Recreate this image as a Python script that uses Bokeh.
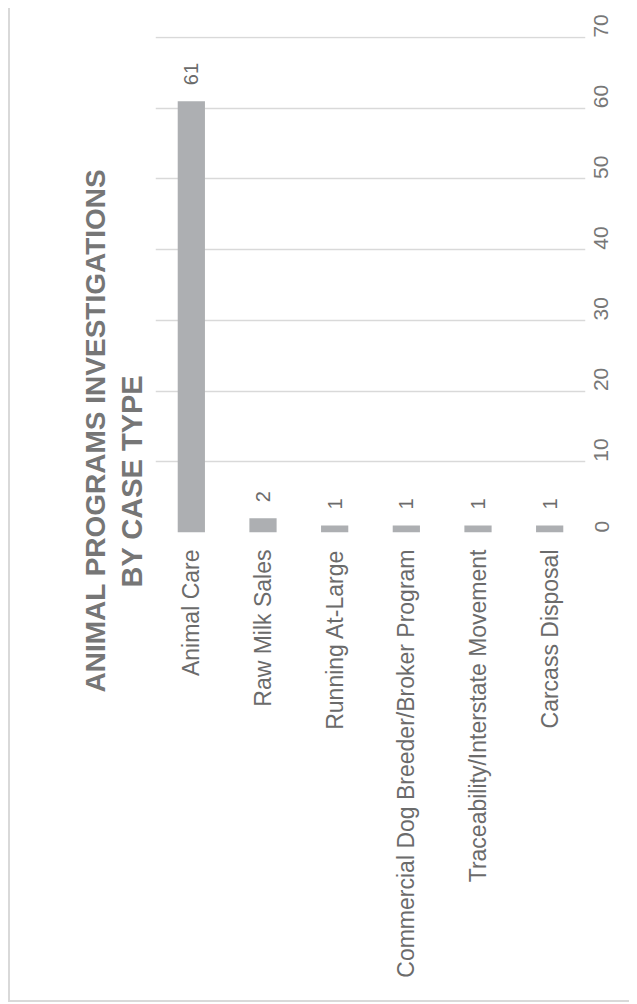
import math
from bokeh.plotting import figure
from bokeh.models import ColumnDataSource, LabelSet, Title, FixedTicker, Range1d, FactorRange
from bokeh.embed import file_html
from bokeh.resources import INLINE
from bokeh.core.properties import value

categories = ["Animal Care", "Raw Milk Sales", "Running At-Large",
              "Commercial Dog Breeder/Broker Program",
              "Traceability/Interstate Movement", "Carcass Disposal"]
counts = [61, 2, 1, 1, 1, 1]
value_ticks = [0, 10, 20, 30, 40, 50, 60, 70]
title_lines = ["ANIMAL PROGRAMS INVESTIGATIONS", "BY CASE TYPE"]

FONT = "Liberation Sans"

src = ColumnDataSource(dict(cat=categories, val=counts, lbl=[str(v) for v in counts]))

p = figure(x_range=FactorRange(*categories), y_range=Range1d(0, 70.15),
           width=621, height=994, output_backend="svg", toolbar_location=None,
           y_axis_location="right",
           min_border_left=145, min_border_right=46, min_border_top=28,
           min_border_bottom=470)
p.margin = (8, 0, 0, 8)
p.styles = {"border-left": "2px solid #d9d9d9", "border-bottom": "2px solid #d9d9d9"}

p.vbar(x="cat", top="val", width=0.38, source=src,
       fill_color="#adafb2", line_color=None)

p.add_layout(LabelSet(x="cat", y="val", text="lbl", source=src,
                      angle=math.pi / 2, text_align="left", text_baseline="middle",
                      y_offset=16, text_font_size="20px", text_color="#6b6b6b",
                      text_font=value(FONT)))

# x axis (categories)
p.xaxis.major_label_orientation = math.pi / 2
p.xaxis.major_label_text_font_size = "23px"
p.xaxis.major_label_text_font = FONT
p.xaxis.major_label_text_color = "#6b6b6b"
p.xaxis.axis_line_color = None
p.xaxis.major_tick_line_color = None
p.xaxis.minor_tick_line_color = None
p.xaxis.major_label_standoff = 11

# y axis (values)
p.yaxis.ticker = FixedTicker(ticks=value_ticks)
p.yaxis.major_label_orientation = math.pi / 2
p.yaxis.major_label_text_font_size = "21px"
p.yaxis.major_label_text_font = FONT
p.yaxis.major_label_text_color = "#777777"
p.yaxis.axis_line_color = None
p.yaxis.major_tick_line_color = None
p.yaxis.minor_tick_line_color = None
p.yaxis.major_label_standoff = 10

p.xgrid.grid_line_color = None
p.ygrid.grid_line_color = "#d9d9d9"
p.ygrid.grid_line_width = 1.5
p.outline_line_color = None

# two-line title, rotated on the left (nearest line added first)
p.add_layout(Title(text=title_lines[1], align="left", offset=-55, standoff=15,
                   text_font=FONT, text_font_style="bold",
                   text_font_size="29px", text_color="#767676"), "left")
p.add_layout(Title(text=title_lines[0], align="left", offset=-160, standoff=-8,
                   text_font=FONT, text_font_style="bold",
                   text_font_size="28px", text_color="#767676"), "left")

open("out.html", "w").write(file_html(p, INLINE))
